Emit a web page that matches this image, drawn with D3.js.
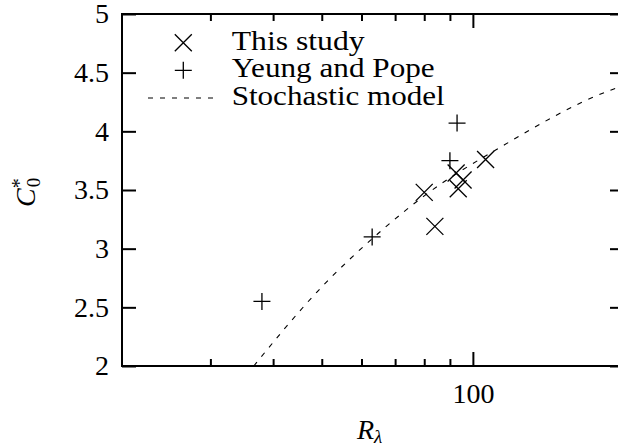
<!DOCTYPE html>
<html><head><meta charset="utf-8">
<script src="https://cdn.jsdelivr.net/npm/d3@7"></script>
</head>
<body style="margin:0">
<svg id="c" width="618" height="447" style="font-family:'Liberation Serif'"></svg>
<script>
// Data
const studyR = [80, 84, 106, 93.5, 95.6, 92.6];
const studyC = [3.48, 3.19, 3.76, 3.51, 3.585, 3.645];
const ypR = [38, 63, 90, 93];
const ypC = [2.55, 3.10, 3.75, 4.07];
const modelR = [36.6, 48.9, 66.4, 80, 114, 188, 200];
const modelC = [2.0, 2.63, 3.17, 3.45, 3.87, 4.35, 4.39];
const xMajorTicks = [100];
const xMinorTicks = [30, 40, 50, 60, 70, 80, 90];
const yTicks = [2, 2.5, 3, 3.5, 4, 4.5, 5];
const legendLabels = ["This study", "Yeung and Pope", "Stochastic model"];

const svg = d3.select("#c");
const L = 122, R = 624, T = 14, B = 366;
const x = d3.scaleLog().domain([20, 200]).range([L, R]);
const y = d3.scaleLinear().domain([2, 5]).range([B, T]);
const FS = 28;

function styleAxis(g){
  g.attr("font-family", null).attr("font-size", null);
  g.select(".domain").remove();
  g.selectAll(".tick line").attr("stroke","#000").attr("stroke-width",2);
  g.selectAll("text").attr("font-size",FS).attr("fill","#000");
}

svg.append("g").attr("transform",`translate(${L},0)`)
  .call(d3.axisLeft(y).tickValues(yTicks).tickSize(-14).tickPadding(13).tickFormat(d3.format("")))
  .call(styleAxis);
svg.append("g").attr("transform",`translate(${R},0)`)
  .call(d3.axisRight(y).tickValues(yTicks).tickSize(-14).tickFormat(""))
  .call(styleAxis);
svg.append("g").attr("transform",`translate(0,${B})`)
  .call(d3.axisBottom(x).tickValues(xMajorTicks).tickSize(-14).tickPadding(17).tickFormat(d3.format("")))
  .call(styleAxis);
svg.append("g").attr("transform",`translate(0,${B})`)
  .call(d3.axisBottom(x).tickValues(xMinorTicks).tickSize(-7).tickFormat(""))
  .call(styleAxis);
svg.append("g").attr("transform",`translate(0,${T})`)
  .call(d3.axisTop(x).tickValues(xMajorTicks).tickSize(-14).tickFormat(""))
  .call(styleAxis);
svg.append("g").attr("transform",`translate(0,${T})`)
  .call(d3.axisTop(x).tickValues(xMinorTicks).tickSize(-7).tickFormat(""))
  .call(styleAxis);

svg.append("rect").attr("x",L).attr("y",T).attr("width",R-L).attr("height",B-T)
  .attr("fill","none").attr("stroke","#000").attr("stroke-width",2);

svg.append("clipPath").attr("id","clip").append("rect")
  .attr("x",L).attr("y",T).attr("width",R-L).attr("height",B-T);

const model = modelR.map((r,i)=>[r, modelC[i]]);
svg.append("path").attr("clip-path","url(#clip)")
  .attr("d", d3.line().x(d=>x(d[0])).y(d=>y(d[1])).curve(d3.curveMonotoneX)(model))
  .attr("fill","none").attr("stroke","#000").attr("stroke-width",1.1)
  .attr("stroke-dasharray","5,7");

const S = 8.5;
function crossPath(cx,cy){return `M${cx-S},${cy-S}L${cx+S},${cy+S}M${cx-S},${cy+S}L${cx+S},${cy-S}`;}
function plusPath(cx,cy){return `M${cx-S},${cy}L${cx+S},${cy}M${cx},${cy-S}L${cx},${cy+S}`;}

svg.append("g").selectAll("path").data(studyR.map((r,i)=>[r,studyC[i]])).join("path")
  .attr("d",d=>crossPath(x(d[0]),y(d[1])))
  .attr("stroke","#000").attr("stroke-width",1.3).attr("fill","none");
svg.append("g").selectAll("path").data(ypR.map((r,i)=>[r,ypC[i]])).join("path")
  .attr("d",d=>plusPath(x(d[0]),y(d[1])))
  .attr("stroke","#000").attr("stroke-width",1.3).attr("fill","none");

const lg = svg.append("g");
const legY = [42.7, 70.3, 98];
const legW = [133, 203, 213];
lg.append("path").attr("d",crossPath(183.3,legY[0])).attr("stroke","#000").attr("stroke-width",1.3);
lg.append("path").attr("d",plusPath(183.3,legY[1])).attr("stroke","#000").attr("stroke-width",1.3);
lg.append("line").attr("x1",148).attr("x2",217).attr("y1",legY[2]).attr("y2",legY[2])
  .attr("stroke","#000").attr("stroke-width",1.1).attr("stroke-dasharray","5,7");
legendLabels.forEach((t,i)=>{
  lg.append("text").attr("x",231.7).attr("y",legY[i]+7).attr("font-size",28)
    .attr("textLength",legW[i]).attr("lengthAdjust","spacingAndGlyphs").text(t);
});

const xt = svg.append("text").attr("x",357).attr("y",439).attr("font-size",28);
xt.append("tspan").attr("font-style","italic").text("R");
xt.append("tspan").attr("font-size",19).attr("font-style","italic").attr("dy",4).text("λ");

const yt = svg.append("text").attr("transform","translate(35,207) rotate(-90)").attr("font-size",28);
yt.append("tspan").attr("font-style","italic").text("C");
yt.append("tspan").attr("font-size",20).attr("dy",-9).text("*");
yt.append("tspan").attr("font-size",19).attr("dx",-9).attr("dy",14).text("0");
</script>
</body></html>
